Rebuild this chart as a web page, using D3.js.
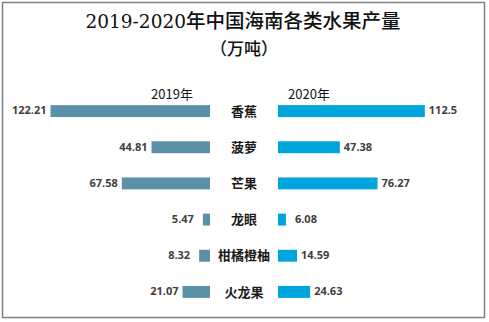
<!DOCTYPE html>
<html>
<head>
<meta charset="utf-8">
<script src="https://cdn.jsdelivr.net/npm/d3@7"></script>
<style>
    body { margin: 0; background: #fff; }
    svg { display: block; }
</style>
</head>
<body>
<div id="chart-ctn"></div>
<script>
// Chart data
let categories = ["香蕉", "菠萝", "芒果", "龙眼", "柑橘橙柚", "火龙果"];
let values2019 = [122.21, 44.81, 67.58, 5.47, 8.32, 21.07];
let values2020 = [112.5, 47.38, 76.27, 6.08, 14.59, 24.63];
let seriesNames = ["2019年", "2020年"];

let width = 489;
let height = 322;

let svg = d3.select("#chart-ctn")
    .append("svg")
    .attr("width", width)
    .attr("height", height);

// frame
svg.append("rect")
    .attr("x", 2.5)
    .attr("y", 2.5)
    .attr("width", 482)
    .attr("height", 315)
    .attr("fill", "#fff")
    .attr("stroke", "#808080")
    .attr("stroke-width", 1.5);

// title
let title = svg.append("text")
    .attr("x", 243)
    .attr("y", 28)
    .attr("text-anchor", "middle")
    .style("font-size", "19px")
    .style("fill", "#111");
title.append("tspan")
    .style("font-family", "'DejaVu Serif', serif")
    .style("font-size", "18.5px")
    .text("2019-2020");
title.append("tspan")
    .style("font-family", "'Noto Sans CJK SC'")
    .style("font-weight", 500)
    .style("font-size", "19.5px")
    .text("年中国海南各类水果产量");

svg.append("text")
    .attr("x", 244)
    .attr("y", 55)
    .attr("text-anchor", "middle")
    .style("font-family", "'Noto Sans CJK SC'")
    .style("font-weight", 500)
    .style("font-size", "17px")
    .style("fill", "#111")
    .text("（万吨）");

// scales
let leftEnd = 210;
let rightStart = 278;
let k = 1.305;

let xLeft = d3.scaleLinear().domain([0, 130]).range([leftEnd, leftEnd - 130 * k]);
let xRight = d3.scaleLinear().domain([0, 130]).range([rightStart, rightStart + 130 * k]);

let y = d3.scaleBand()
    .domain(categories)
    .range([93, 310])
    .paddingInner(0.67)
    .paddingOuter(0.335);

let rows = categories.map((c, i) => ({ cat: c, a: values2019[i], b: values2020[i] }));

// 2019 bars
svg.selectAll(".bar2019")
    .data(rows)
    .enter()
    .append("rect")
    .attr("class", "bar2019")
    .attr("x", (d) => xLeft(d.a))
    .attr("y", (d) => y(d.cat))
    .attr("width", (d) => xLeft(0) - xLeft(d.a))
    .attr("height", y.bandwidth())
    .attr("fill", "#5B91A8");

// 2020 bars
svg.selectAll(".bar2020")
    .data(rows)
    .enter()
    .append("rect")
    .attr("class", "bar2020")
    .attr("x", xRight(0))
    .attr("y", (d) => y(d.cat))
    .attr("width", (d) => xRight(d.b) - xRight(0))
    .attr("height", y.bandwidth())
    .attr("fill", "#00A5DC");

let labelFont = "'Open Sans', 'DejaVu Sans', sans-serif";

// value labels
svg.selectAll(".lab2019")
    .data(rows)
    .enter()
    .append("text")
    .attr("x", (d) => xLeft(d.a) - (d.a < 10 ? 9 : 4))
    .attr("y", (d) => y(d.cat) + y.bandwidth() / 2)
    .attr("dy", "0.3em")
    .attr("text-anchor", "end")
    .style("font-family", labelFont)
    .style("font-weight", "bold")
    .style("font-size", "11px")
    .style("fill", "#404040")
    .text((d) => d.a);

svg.selectAll(".lab2020")
    .data(rows)
    .enter()
    .append("text")
    .attr("x", (d) => xRight(d.b) + (d.b < 10 ? 9 : 4))
    .attr("y", (d) => y(d.cat) + y.bandwidth() / 2)
    .attr("dy", "0.3em")
    .style("font-family", labelFont)
    .style("font-weight", "bold")
    .style("font-size", "11px")
    .style("fill", "#404040")
    .text((d) => d.b);

// category labels
svg.selectAll(".cat")
    .data(rows)
    .enter()
    .append("text")
    .attr("x", 244)
    .attr("y", (d) => y(d.cat) + y.bandwidth() / 2)
    .attr("dy", "0.36em")
    .attr("text-anchor", "middle")
    .style("font-family", "'Noto Sans CJK SC'")
    .style("font-weight", "bold")
    .style("font-size", "13px")
    .style("fill", "#1a1a1a")
    .text((d) => d.cat);

// series names
svg.append("text")
    .attr("x", 172)
    .attr("y", 99)
    .attr("text-anchor", "middle")
    .style("font-family", "'Noto Sans CJK SC'")
    .style("font-size", "13px")
    .style("fill", "#111")
    .text(seriesNames[0]);

svg.append("text")
    .attr("x", 309)
    .attr("y", 99)
    .attr("text-anchor", "middle")
    .style("font-family", "'Noto Sans CJK SC'")
    .style("font-size", "13px")
    .style("fill", "#111")
    .text(seriesNames[1]);
</script>
</body>
</html>
